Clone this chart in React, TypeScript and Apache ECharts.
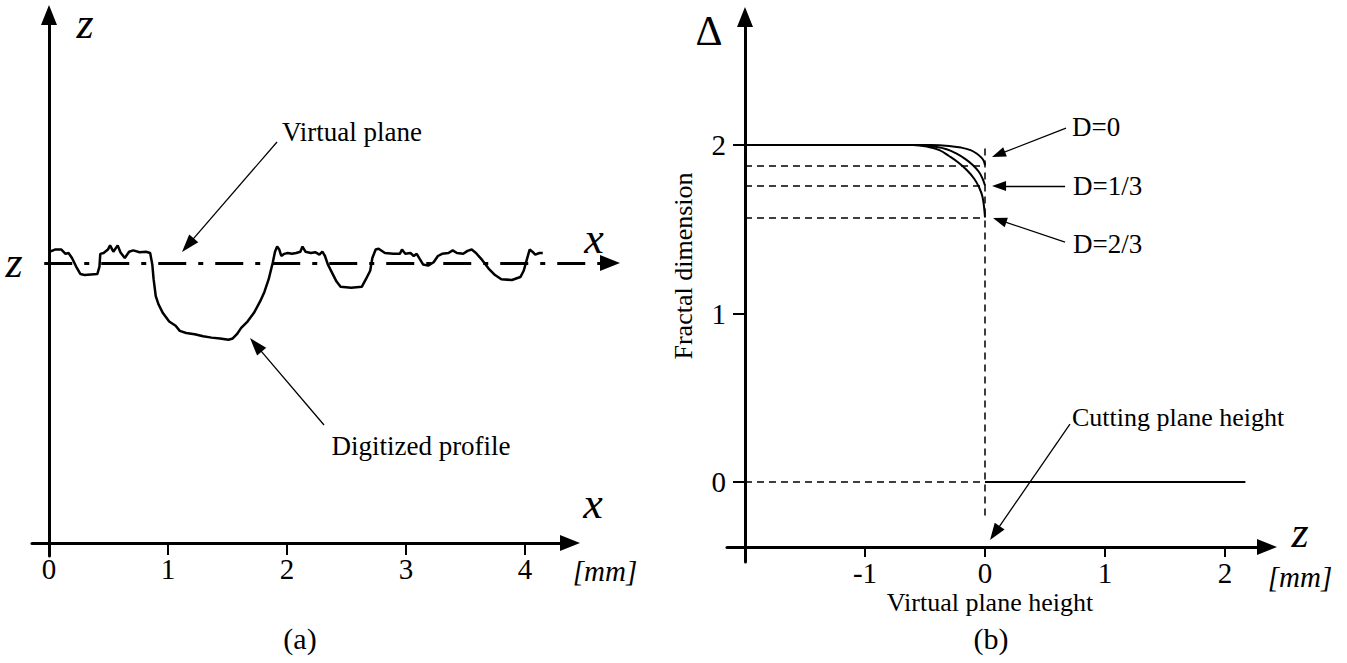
import React, { useEffect, useRef } from "react";
import * as echarts from "echarts";

const profileX = [
  0.008, 0.05, 0.104, 0.139, 0.164, 0.193, 0.228, 0.264, 0.299, 0.406, 0.424, 0.431, 0.459, 0.495, 0.513,
  0.541, 0.577, 0.601, 0.637, 0.673, 0.708, 0.761, 0.815, 0.85, 0.868, 0.879, 0.897, 0.921, 0.957, 1.01,
  1.064, 1.099, 1.153, 1.224, 1.295, 1.366, 1.437, 1.508, 1.544, 1.579, 1.615, 1.668, 1.721, 1.775, 1.81,
  1.846, 1.881, 1.899, 1.917, 1.935, 1.952, 1.977, 2.006, 2.041, 2.077, 2.112, 2.13, 2.155, 2.201, 2.237,
  2.272, 2.297, 2.319, 2.343, 2.379, 2.415, 2.45, 2.539, 2.628, 2.663, 2.699, 2.717, 2.745, 2.77, 2.823,
  2.894, 2.948, 2.966, 2.994, 3.037, 3.065, 3.09, 3.115, 3.143, 3.186, 3.232, 3.268, 3.303, 3.357, 3.392,
  3.428, 3.481, 3.517, 3.552, 3.588, 3.641, 3.694, 3.748, 3.801, 3.89, 3.961, 3.989, 4.014, 4.039, 4.062,
  4.086, 4.121, 4.149,
];
const profileZ = [
  0.095, 0.113, 0.113, 0.077, 0.084, 0.042, -0.03, -0.093, -0.101, -0.093, -0.03, 0.077, 0.084, 0.113, 0.148,
  0.095, 0.148, 0.088, 0.042, 0.095, 0.106, 0.091, 0.095, 0.084, -0.012, -0.136, -0.278, -0.349, -0.421, -0.492,
  -0.527, -0.57, -0.588, -0.598, -0.616, -0.627, -0.634, -0.645, -0.634, -0.598, -0.545, -0.492, -0.421, -0.321, -0.243,
  -0.136, 0.006, 0.095, 0.138, 0.113, 0.059, 0.077, 0.084, 0.077, 0.084, 0.095, 0.138, 0.095, 0.084, 0.091,
  0.07, 0.095, 0.059, -0.012, -0.083, -0.154, -0.2, -0.207, -0.2, -0.136, -0.065, 0.042, 0.113, 0.12, 0.084,
  0.077, 0.077, 0.113, 0.077, 0.084, 0.059, 0.077, 0.034, -0.012, -0.022, 0.006, 0.059, 0.077, 0.084, 0.106,
  0.084, 0.077, 0.102, 0.113, 0.084, 0.024, -0.047, -0.101, -0.136, -0.143, -0.118, -0.065, 0.024, 0.113, 0.095,
  0.07, 0.084, 0.084,
];
const aTickValues = [0, 1, 2, 3, 4];
const virtualPlaneX = [-0.04, 4.714];
const virtualPlaneZ = 0;
const vpArrow = [[1.916, 1.017], [1.167, 0.15]];
const dpArrow = [[2.311, -1.361], [1.738, -0.688]];

// ---------- Panel (b): fractal dimension vs virtual plane height ----------
const bTickX = [-1, 0, 1, 2];
const bTickY = [0, 1, 2];
const d0Z = [-2, -0.45, -0.3, -0.2, -0.12, -0.07, -0.03, -0.01, 0];
const d0D = [2, 2, 1.995, 1.985, 1.97, 1.95, 1.925, 1.905, 1.88];
const d13Z = [-2, -0.55, -0.42, -0.32, -0.24, -0.16, -0.1, -0.05, -0.02, 0];
const d13D = [2, 2, 1.99, 1.975, 1.95, 1.915, 1.88, 1.84, 1.8, 1.76];
const d23Z = [-2, -0.6, -0.48, -0.38, -0.3, -0.22, -0.15, -0.09, -0.05, -0.02, 0];
const d23D = [2, 2, 1.99, 1.97, 1.935, 1.895, 1.85, 1.8, 1.75, 1.69, 1.57];
const endLevels = [1.88, 1.76, 1.57];
const zeroLineZ = [0, 2.17];
const cutVertical = [1.98, -0.22];
const d0Arrow = [[0.675, 2.101], [0.1125, 1.944]];
const d13Arrow = [[0.667, 1.757], [0.117, 1.757]];
const d23Arrow = [[0.667, 1.424], [0.122, 1.554]];
const cutArrow = [[0.708, 0.344], [0.082, -0.303]];

const FONT = '"Liberation Serif", "Times New Roman", serif';

function txt(text: string, x: number, y: number, size: number, o: any = {}) {
  return {
    type: "text",
    x,
    y,
    rotation: o.rot || 0,
    z: 100,
    style: {
      text,
      font: `${o.italic ? "italic " : ""}${size}px ${FONT}`,
      fill: "#000",
      align: o.align || "center",
      verticalAlign: "middle",
      textAlign: o.align || "center",
      textVerticalAlign: "middle",
    },
  };
}

export default function App() {
  const ref = useRef<HTMLDivElement>(null);
  useEffect(() => {
    if (!ref.current) return;
    const chart = echarts.init(ref.current, undefined, { renderer: "svg" });
    const black = "#000";
    const axisLine = (show = true) => ({
      show,
      onZero: false,
      symbol: ["none", "triangle"],
      symbolSize: [16, 20],
      lineStyle: { color: black, width: 3 },
    });
    const tickLabel = { color: black, fontSize: 29, fontFamily: FONT };

    const arrowSeries = (idx: number, arrows: number[][][], size: number[], width: number) => ({
      type: "lines",
      coordinateSystem: "cartesian2d",
      xAxisIndex: idx,
      yAxisIndex: idx,
      clip: false,
      symbol: ["none", "triangle"],
      symbolSize: [1, size],
      lineStyle: { color: black, width, opacity: 1, curveness: 0 },
      data: arrows.map((c) => ({ coords: c })),
      silent: true,
    });

    const option: any = {
      animation: false,
      backgroundColor: "#fff",
      grid: [
        { left: 32, top: 15, width: 570 - 32, height: 556 - 15, outerBoundsMode: "none", containLabel: false },
        { left: 727, top: 17, width: 1267 - 727, height: 562 - 17, outerBoundsMode: "none", containLabel: false },
      ],
      xAxis: [
        {
          type: "value",
          gridIndex: 0,
          min: -0.1429,
          max: 4.378,
          offset: -13,
          axisLine: axisLine(),
          axisTick: { show: true, length: 12, lineStyle: { color: black, width: 2 }, customValues: aTickValues },
          axisLabel: { ...tickLabel, margin: 11, customValues: aTickValues },
          splitLine: { show: false },
        },
        {
          type: "value",
          gridIndex: 1,
          min: -2.15,
          max: 2.35,
          offset: -15,
          axisLine: axisLine(),
          axisTick: { show: true, length: 10, lineStyle: { color: black, width: 2 }, customValues: bTickX },
          axisLabel: { ...tickLabel, margin: 11, customValues: bTickX },
          splitLine: { show: false },
        },
      ],
      yAxis: [
        {
          type: "value",
          gridIndex: 0,
          min: -2.462,
          max: 2.084,
          offset: -17,
          axisLine: axisLine(),
          axisTick: { show: false },
          axisLabel: { show: false },
          splitLine: { show: false },
        },
        {
          type: "value",
          gridIndex: 1,
          min: -0.4748,
          max: 2.76,
          offset: -18,
          axisLine: axisLine(),
          axisTick: { show: true, length: 12, lineStyle: { color: black, width: 2 }, customValues: bTickY },
          axisLabel: { ...tickLabel, margin: 19, customValues: bTickY },
          splitLine: { show: false },
        },
      ],
      series: [
        {
          type: "line",
          xAxisIndex: 0,
          yAxisIndex: 0,
          data: profileX.map((x, i) => [x, profileZ[i]]),
          showSymbol: false,
          lineStyle: { color: black, width: 2.5 },
          silent: true,
        },
        {
          type: "lines",
          coordinateSystem: "cartesian2d",
          xAxisIndex: 0,
          yAxisIndex: 0,
          clip: false,
          symbol: ["none", "triangle"],
          symbolSize: [1, [16, 20]],
          lineStyle: { color: black, width: 3, opacity: 1, type: [28, 12, 5, 12] },
          data: [{ coords: [[virtualPlaneX[0], virtualPlaneZ], [virtualPlaneX[1], virtualPlaneZ]] }],
          silent: true,
        },
        arrowSeries(0, [vpArrow, dpArrow], [12, 18], 1.3),
        ...[
          [d0Z, d0D],
          [d13Z, d13D],
          [d23Z, d23D],
        ].map(([zs, ds]) => ({
          type: "line",
          xAxisIndex: 1,
          yAxisIndex: 1,
          data: zs.map((z, i) => [z, ds[i]]),
          showSymbol: false,
          smooth: 0.4,
          lineStyle: { color: black, width: 2 },
          silent: true,
        })),
        {
          type: "lines",
          coordinateSystem: "cartesian2d",
          xAxisIndex: 1,
          yAxisIndex: 1,
          clip: false,
          symbol: "none",
          lineStyle: { color: black, width: 1.5, opacity: 1, type: [7, 5] },
          data: [
            ...endLevels.map((l) => ({ coords: [[-2, l], [0, l]] })),
            { coords: [[-2, 0], [0, 0]] },
            { coords: [[0, cutVertical[0]], [0, cutVertical[1]]] },
          ],
          silent: true,
        },
        {
          type: "line",
          xAxisIndex: 1,
          yAxisIndex: 1,
          data: zeroLineZ.map((z) => [z, 0]),
          showSymbol: false,
          lineStyle: { color: black, width: 2 },
          silent: true,
        },
        arrowSeries(1, [d0Arrow, d13Arrow, d23Arrow], [10, 14], 1.3),
        arrowSeries(1, [cutArrow], [12, 17], 1.3),
      ],
      graphic: [
        txt("z", 85, 23, 44, { italic: true }),
        txt("z", 14, 262, 44, { italic: true }),
        txt("x", 594, 238, 44, { italic: true }),
        txt("x", 593, 503, 44, { italic: true }),
        txt("[mm]", 605, 571, 29, { italic: true }),
        txt("Virtual plane", 352, 132, 27),
        txt("Digitized profile", 421, 446, 27),
        txt("(a)", 300, 638, 30),
        txt("Δ", 709, 31, 42),
        txt("Fractal dimension", 683, 266, 26, { rot: Math.PI / 2 }),
        txt("D=0", 1072, 127, 27, { align: "left" }),
        txt("D=1/3", 1073, 186, 27, { align: "left" }),
        txt("D=2/3", 1073, 244, 27, { align: "left" }),
        txt("Cutting plane height", 1072, 417, 26, { align: "left" }),
        txt("z", 1300, 532, 44, { italic: true }),
        txt("[mm]", 1300, 577, 29, { italic: true }),
        txt("Virtual plane height", 990, 602, 26),
        txt("(b)", 991, 638, 30),
      ],
    };
    chart.setOption(option);
    return () => chart.dispose();
  }, []);
  return (
    <div
      ref={ref}
      style={{ position: "fixed", left: 0, top: 0, width: 1347, height: 663, background: "#fff" }}
    />
  );
}
